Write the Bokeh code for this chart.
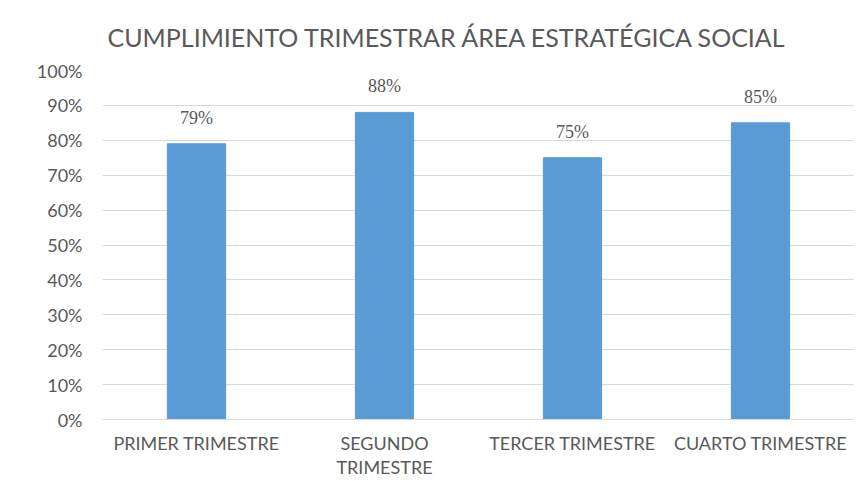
from bokeh.plotting import figure
from bokeh.models import ColumnDataSource, LabelSet, NumeralTickFormatter, FixedTicker, Range1d, FactorRange
from bokeh.embed import file_html
from bokeh.resources import INLINE

title_text = "CUMPLIMIENTO TRIMESTRAR ÁREA ESTRATÉGICA SOCIAL"
categories = ["PRIMER TRIMESTRE", "SEGUNDO\nTRIMESTRE", "TERCER TRIMESTRE", "CUARTO TRIMESTRE"]
values = [0.79, 0.88, 0.75, 0.85]
labels = ["79%", "88%", "75%", "85%"]
y_ticks = [0.0, 0.1, 0.2, 0.3, 0.4, 0.5, 0.6, 0.7, 0.8, 0.9, 1.0]

FONT = "Lato"
TEXT = "#595959"

source = ColumnDataSource(dict(cat=categories, val=values, lab=labels))

p = figure(
    x_range=FactorRange(*categories, range_padding=0),
    y_range=Range1d(0, 1),
    width=854, height=480,
    output_backend="svg", toolbar_location=None,
    min_border_left=102, min_border_right=0, min_border_bottom=59, min_border_top=10,
    title=title_text,
)
p.title.align = "left"
p.title.offset = 5
p.title.text_font = FONT
p.title.text_font_size = "25px"
p.title.text_font_style = "normal"
p.title.text_color = TEXT
p.title.standoff = 38
p.outline_line_color = None

p.vbar(x="cat", top="val", width=0.31, source=source, color="#5B9BD5")

p.add_layout(LabelSet(x="cat", y="val", text="lab", source=source,
                      text_align="center", text_baseline="bottom", y_offset=16,
                      text_font=FONT, text_font_size="18px", text_color=TEXT))

p.yaxis.ticker = FixedTicker(ticks=y_ticks)
p.yaxis.formatter = NumeralTickFormatter(format="0%")
p.yaxis.axis_line_color = None
p.yaxis.major_tick_line_color = None
p.yaxis.minor_tick_line_color = None
p.yaxis.major_tick_out = 0
p.yaxis.major_tick_in = 0
p.yaxis.minor_tick_out = 0
p.yaxis.axis_label_standoff = 0
p.yaxis.major_label_standoff = 20
p.yaxis.major_label_text_font = FONT
p.yaxis.major_label_text_font_size = "18px"
p.yaxis.major_label_text_color = TEXT

p.xaxis.axis_line_color = "#D9D9D9"
p.xaxis.major_tick_line_color = None
p.xaxis.minor_tick_line_color = None
p.xaxis.major_tick_out = 0
p.xaxis.major_tick_in = 0
p.xaxis.minor_tick_out = 0
p.xaxis.axis_label_standoff = 0
p.xaxis.major_label_standoff = 12
p.xaxis.major_label_text_font = FONT
p.xaxis.major_label_text_font_size = "18px"
p.xaxis.major_label_text_line_height = 1.1
p.xaxis.major_label_text_color = TEXT

p.xgrid.grid_line_color = None
p.ygrid.grid_line_color = "#D9D9D9"

open("out.html", "w").write(file_html(p, INLINE))
